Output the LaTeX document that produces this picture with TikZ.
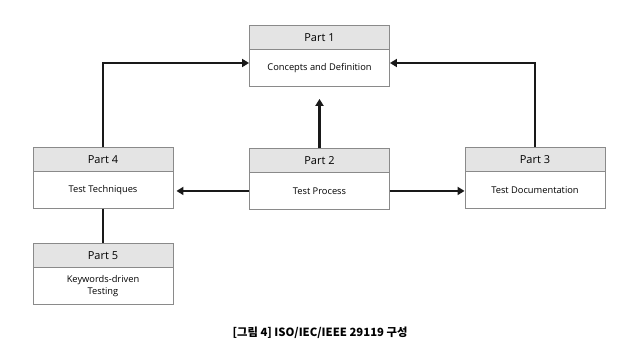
\documentclass[tikz,border=0pt]{standalone}
\usepackage{fontspec}
\setmainfont{Open Sans}
\newfontfamily\krfont{Noto Sans CJK KR}
\usetikzlibrary{arrows.meta}
\definecolor{hdr}{HTML}{E4E4E4}
\definecolor{bord}{HTML}{8A8A8A}
\tikzset{
  hdrbox/.style={draw=bord, line width=0.9pt, fill=hdr, minimum width=140pt, minimum height=24pt, inner sep=0pt, font=\fontsize{11}{13}\selectfont, anchor=north},
  bodybox/.style={draw=bord, line width=0.9pt, fill=white, minimum width=140pt, minimum height=37pt, inner sep=0pt, align=center, font=\fontsize{9.3}{12}\selectfont, anchor=north},
  conn/.style={line width=2.6pt, draw=black!90},
  arr/.style={conn, -{Triangle[length=7pt,width=8pt]}}
}
\begin{document}
\begin{tikzpicture}[x=1pt,y=-1pt]
\useasboundingbox (0,0) rectangle (632,351);
% Part 1
\node[bodybox] (p1b) at (319.5,49) {Concepts and Definition};
\node[hdrbox] (p1h) at (319.5,25) {Part 1};
% Part 2
\node[bodybox] (p2b) at (319.5,172) {Test Process};
\node[hdrbox] (p2h) at (319.5,148) {Part 2};
% Part 3
\node[bodybox] (p3b) at (535,171) {Test Documentation};
\node[hdrbox] (p3h) at (535,147) {Part 3};
% Part 4
\node[bodybox] (p4b) at (103,171) {Test Techniques};
\node[hdrbox] (p4h) at (103,147) {Part 4};
% Part 5
\node[bodybox] (p5b) at (103,267) {Keywords-driven\\Testing};
\node[hdrbox] (p5h) at (103,243) {Part 5};
% connectors
\coordinate (c4) at (103,63);
\coordinate (c3) at (535,63);
\draw[arr] (p4h.north) -- (c4) -- (p1b.west |- c4);
\draw[arr] (p3h.north) -- (c3) -- (p1b.east |- c3);
\draw[arr] (p2h.north) -- ([yshift=-12pt]p1b.south);
\draw[arr] (p2b.west) -- ([xshift=3pt]p4b.east |- p2b.west);
\draw[arr] (p2b.east) -- (p3b.west |- p2b.east);
\draw[conn] (p4b.south) -- (p5h.north);
% caption
\node[font=\krfont\bfseries\fontsize{11.3}{13}\selectfont] (cap) at (320,333) {[그림 4] ISO/IEC/IEEE 29119 구성};
\end{tikzpicture}
\end{document}
